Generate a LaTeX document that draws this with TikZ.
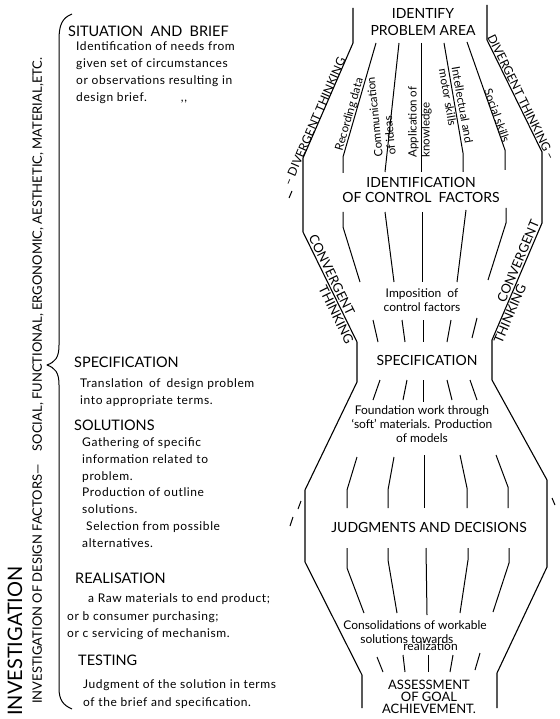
\documentclass[tikz,border=0pt]{standalone}
\usepackage{fontspec}
\setmainfont{Lato}

\begin{document}
\begin{tikzpicture}[x=1pt, y=-1pt,
			stage/.style={font=\fontsize{14}{17}\selectfont, align=center, inner sep=0pt},
			note/.style={font=\fontsize{12}{14}\selectfont, align=center, inner sep=0pt},
			skill/.style={font=\fontsize{11.5}{13}\selectfont, align=left, inner sep=0pt},
			mode/.style={font=\fontsize{13}{15}\selectfont, inner sep=1.5pt},
			head/.style={font=\fontsize{14.5}{17}\selectfont, anchor=base west, inner sep=0pt},
			body/.style={font=\fontsize{12}{17}\selectfont\addfontfeature{LetterSpace=5}, anchor=base west, align=left, inner sep=0pt},
			wall/.style={line width=1.1pt, line join=round},
			strand/.style={line width=1pt, line join=round}
			]
			\useasboundingbox (0,0) rectangle (559,719);
			
			% left column
			\node[font=\fontsize{20}{22}\selectfont, rotate=90] (inv) at (15,641) {INVESTIGATION};
			\node[font=\fontsize{13}{15}\selectfont, rotate=90, anchor=west, inner sep=0pt] (factors) at (38,704) {INVESTIGATION OF DESIGN FACTORS—\quad SOCIAL, FUNCTIONAL, ERGONOMIC, AESTHETIC, MATERIAL,ETC.};
			\draw[strand] (72,14) .. controls (62,18) and (59,25) .. (59,40) -- (59,345) .. controls (59,358) and (55,362) .. (47,365) .. controls (55,368) and (59,372) .. (59,385) -- (59,688) .. controls (59,700) and (63,705) .. (72,709);
			
			% base west of a block = last line
			\node[head] (brief) at (68,37) {SITUATION\enspace AND\enspace BRIEF};
			\node[body] (briefbody) at (76,102) {Identification of needs from\\given set of circumstances\\or observations resulting in\\design brief.\hspace{34pt}{,}{,}};
			\node[head] (specl) at (74,367) {SPECIFICATION};
			\node[body] (specbody) at (80,404) {Translation\enspace of\enspace design problem\\into appropriate terms.};
			\node[head] (sol) at (74,430) {SOLUTIONS};
			\node[body, font=\fontsize{12}{16.7}\selectfont\addfontfeature{LetterSpace=5}] (solbody) at (82,547) {Gathering of specific\\information related to\\problem.\\Production of outline\\solutions.\\\hspace*{4pt}Selection from possible\\alternatives.};
			\node[head] (real) at (75,583) {REALISATION};
			\node[body] (reala) at (88,602) {a Raw materials to end product;};
			\node[body] (realbc) at (67,637) {or b consumer purchasing;\\or c servicing of mechanism.};
			\node[head] (test) at (78,665) {TESTING};
			\node[body, font=\fontsize{12}{18}\selectfont\addfontfeature{LetterSpace=5}] (testbody) at (83,706) {Judgment of the solution in terms\\of the brief and specification.};
			
			% outer walls
			\draw[wall] (353,8) -- (353,43) -- (303,158) -- (303,232) -- (357,342) -- (357,382) -- (305,490) -- (305,562) -- (362,675) -- (362,708);
			\draw[wall] (487,5) -- (487,40) -- (542,152) -- (542,223) -- (492,340) -- (492,380) -- (547,480) -- (547,567) -- (497,673) -- (497,708);
			
			% stages
			\node[stage] (area) at (423,22) {IDENTIFY\\PROBLEM AREA};
			\node[stage, font=\fontsize{14}{15}\selectfont] (control) at (421,190) {IDENTIFICATION\\OF CONTROL\enspace FACTORS};
			\node[note] (impose) at (422,300) {Imposition\enspace of\\control factors};
			\node[stage] (spec) at (427,360) {SPECIFICATION};
			\node[note] (found) at (422,424) {Foundation work through\\`soft' materials. Production\\of models};
			\node[stage] (judge) at (429,527) {JUDGMENTS AND DECISIONS};
			\node[note, align=left] (consol) at (415,636) {Consolidations of workable\\\hspace*{17pt}solutions towards\\[-7pt]\hspace*{60pt}realization};
			\node[stage, font=\fontsize{13}{12}\selectfont] (goal) at (429,697) {ASSESSMENT\\OF GOAL\\ACHIEVEMENT.};
			
			% strands
			\draw[strand] (376,43) -- (343,157) -- (343,173);
			\draw[strand] (399,43) -- (385,172);
			\draw[strand] (421,43) -- (421,172);
			\draw[strand] (444,43) -- (463,153) -- (463,172);
			\draw[strand] (467,42) -- (505,150) -- (505,170);
			\node[skill, rotate=74, anchor=south] (rec) at (355,116) {Recording data};
			\node[skill, rotate=96, anchor=south] (comm) at (392,115) {Communication\\of ideas};
			\node[skill, rotate=90] (appl) at (420,122) {Application of\\knowledge};
			\node[skill, rotate=-80] (intel) at (456,106) {Intellectual and\\motor skills};
			\node[skill, rotate=-70.6, anchor=south] (social) at (493,117) {Social skills};
			
			\draw[strand] (343,212) -- (343,227) -- (360,282);
			\draw[strand] (385,212) -- (394,282);
			\draw[strand] (422,212) -- (422,282);
			\draw[strand] (466,210) -- (457,282);
			\draw[strand] (506,208) -- (506,223) -- (488,280);
			
			\draw[strand] (373,320) -- (378,342);
			\draw[strand] (402,320) -- (405,342);
			\draw[strand] (423,320) -- (423,342);
			\draw[strand] (451,320) -- (447,342);
			\draw[strand] (477,318) -- (472,338);
			
			\draw[strand] (380,380) -- (373,400);
			\draw[strand] (407,380) -- (403,400);
			\draw[strand] (423,380) -- (423,402);
			\draw[strand] (447,380) -- (452,400);
			\draw[strand] (470,380) -- (477,400);
			
			\draw[strand] (357,457) -- (347,490) -- (347,508);
			\draw[strand] (394,457) -- (388,490) -- (388,508);
			\draw[strand] (424,455) -- (424,508);
			\draw[strand] (460,455) -- (467,488) -- (467,508);
			\draw[strand] (496,455) -- (508,487) -- (508,508);
			
			\draw[strand] (347,548) -- (347,568) -- (364,613);
			\draw[strand] (388,548) -- (388,560) -- (397,613);
			\draw[strand] (426,548) -- (427,615);
			\draw[strand] (468,548) -- (468,560) -- (460,613);
			\draw[strand] (509,548) -- (509,563) -- (493,612);
			
			\draw[strand] (377,657) -- (383,672);
			\draw[strand] (403,655) -- (405,672);
			\draw[strand] (428,655) -- (428,672);
			\draw[strand] (453,655) -- (450,672);
			\draw[strand] (480,653) -- (475,670);
			
			% thinking modes
			\node[mode, font=\fontsize{12}{14}\selectfont, rotate=66.5, anchor=south] (divl) at (320,124) {– DIVERGENT THINKING};
			\node[mode, font=\fontsize{12}{14}\selectfont, rotate=-63.8, anchor=south] (divr) at (516,100) {DIVERGENT THINKING –};
			\node[mode, rotate=-63.9, anchor=south] (convl) at (326,278) {CONVERGENT};
			\node[mode, rotate=-63.9, anchor=north] (thinkl) at (342,312) {THINKING};
			\node[mode, rotate=66.9, anchor=south] (convr) at (524,264) {CONVERGENT};
			\node[mode, rotate=66.9, anchor=north] (thinkr) at (504,311) {THINKING};
			\draw[strand] (292,191) -- (289,198);
			\draw[strand] (301,501) -- (298,509);
			\draw[strand] (293,517) -- (290,526);
			\draw[strand] (552,498) -- (555,505);
		\end{tikzpicture}
\end{document}
